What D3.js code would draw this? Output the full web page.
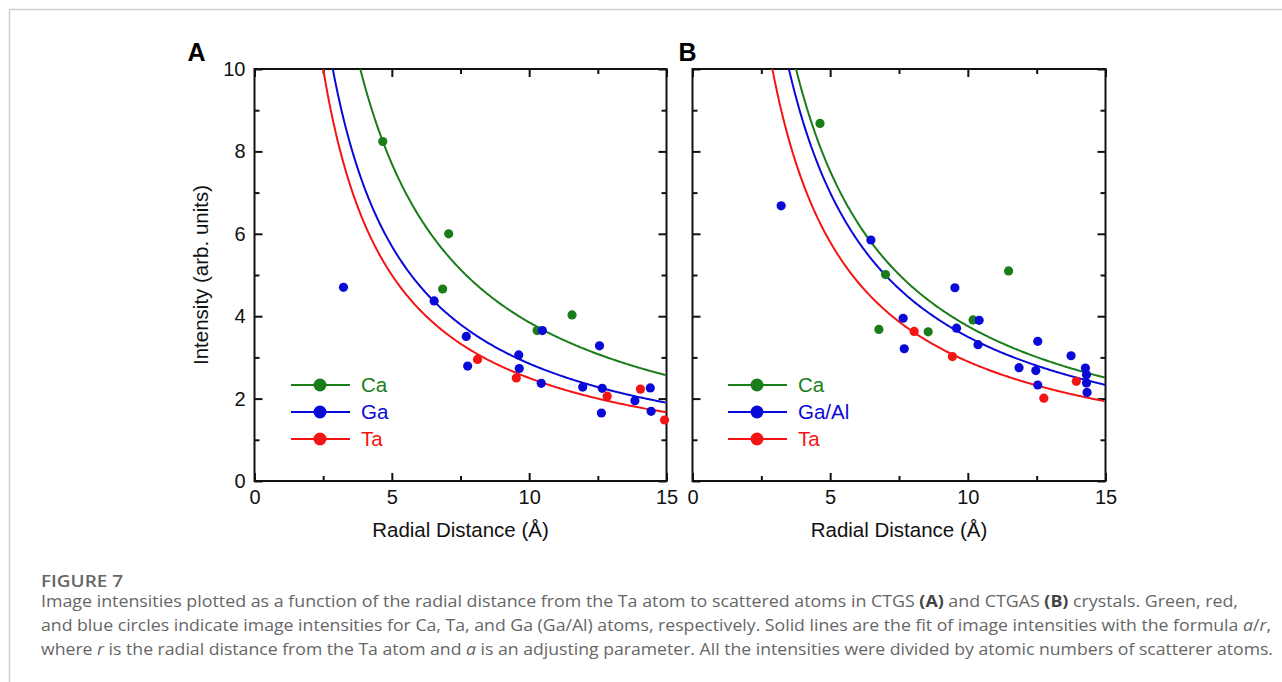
<!DOCTYPE html>
<html lang="en">
<head>
<meta charset="UTF-8">
<title>Figure 7</title>
<script src="https://d3js.org/d3.v7.min.js"></script>
<style>
  body { margin: 0; background: #fff; }
  svg { display: block; font-family: "Liberation Sans", Arial, sans-serif; }
  .axis path, .axis line { stroke: #111; stroke-width: 2; }
  .axis text { font-size: 20px; fill: #111; font-family: "Liberation Sans", Arial, sans-serif; }
  .caption { font-family: "Open Sans", "Noto Sans", sans-serif; fill: #666; }
</style>
</head>
<body>
<svg id="fig" width="1282" height="682"></svg>
<script>
// fit parameter a for I = a / r
var fitA = { Ca: 38.5, Ga: 28.5, Ta: 25.0 };
var fitB = { Ca: 37.6, Ga: 35.0, Ta: 29.0 };

// panel A points [r, I]
var caA = [[4.67, 8.24], [7.07, 6.0], [6.85, 4.66], [10.29, 3.65], [11.56, 4.03]];
var gaA = [[3.24, 4.70], [6.54, 4.37], [7.71, 3.51], [7.76, 2.79], [9.62, 3.06], [9.64, 2.73],
           [10.48, 3.65], [10.44, 2.37], [11.95, 2.28], [12.56, 3.28], [12.66, 2.25], [12.63, 1.65],
           [13.85, 1.95], [14.41, 2.26], [14.44, 1.69]];
var taA = [[8.12, 2.95], [9.53, 2.50], [12.84, 2.06], [14.05, 2.23], [14.93, 1.48]];

// panel B points
var caB = [[4.63, 8.68], [7.01, 5.01], [6.77, 3.68], [8.56, 3.62], [10.19, 3.91], [11.48, 5.10]];
var gaB = [[3.22, 6.68], [6.48, 5.85], [9.53, 4.69], [7.65, 3.95], [7.69, 3.21], [9.59, 3.71],
           [10.41, 3.90], [10.37, 3.31], [11.86, 2.75], [12.47, 2.68], [12.54, 3.39], [12.54, 2.33],
           [13.75, 3.04], [14.27, 2.74], [14.31, 2.58], [14.31, 2.38], [14.33, 2.15]];
var taB = [[8.05, 3.63], [9.44, 3.02], [12.76, 2.01], [13.94, 2.42]];

var xMajor = [0, 5, 10, 15], xMinor = [2.5, 7.5, 12.5];
var yMajor = [0, 2, 4, 6, 8, 10], yMinor = [1, 3, 5, 7, 9];

var colors = { Ca: "#1a7d1a", Ga: "#0a0ad8", Ta: "#f41414" };

var svg = d3.select("#fig");

// page frame
svg.append("line").attr("x1", 9.5).attr("x2", 1282).attr("y1", 9.5).attr("y2", 9.5)
  .attr("stroke", "#cfcfcf").attr("stroke-width", 1.5);
svg.append("line").attr("x1", 9.5).attr("x2", 9.5).attr("y1", 9.5).attr("y2", 682)
  .attr("stroke", "#cfcfcf").attr("stroke-width", 1.5);

function panel(opts) {
  var x = d3.scaleLinear().domain([0, 15]).range([opts.left, opts.right]);
  var y = d3.scaleLinear().domain([0, 10]).range([481, 69]);
  var g = svg.append("g");

  var clipId = "clip" + opts.label;
  svg.append("clipPath").attr("id", clipId).append("rect")
    .attr("x", opts.left).attr("y", 69).attr("width", opts.right - opts.left).attr("height", 412);

  // inward ticks on all four sides
  function tickAxis(axisFn, scale, vals, size, tx, ty, labels, pad) {
    var ax = axisFn(scale).tickValues(vals).tickSize(-size).tickPadding(pad || 6)
      .tickFormat(labels ? d3.format("d") : "");
    var a = g.append("g").attr("class", "axis")
      .attr("transform", "translate(" + tx + "," + ty + ")").call(ax);
    a.select(".domain").remove();
    return a;
  }
  tickAxis(d3.axisBottom, x, xMinor, 5, 0, 481, false);
  tickAxis(d3.axisTop, x, xMinor, 5, 0, 69, false);
  tickAxis(d3.axisLeft, y, yMinor, 5, opts.left, 0, false);
  tickAxis(d3.axisRight, y, yMinor, 5, opts.right, 0, false);
  var bx = tickAxis(d3.axisBottom, x, xMajor, 8, 0, 481, true, 5);
  bx.selectAll("text").attr("dy", "0.9em");
  tickAxis(d3.axisTop, x, xMajor, 8, 0, 69, false);
  tickAxis(d3.axisLeft, y, yMajor, 8, opts.left, 0, opts.yLabels, 9);
  tickAxis(d3.axisRight, y, yMajor, 8, opts.right, 0, false);

  // frame
  g.append("rect").attr("x", opts.left).attr("y", 69)
    .attr("width", opts.right - opts.left).attr("height", 412)
    .attr("fill", "none").attr("stroke", "#111").attr("stroke-width", 2);

  // fit curves a/r
  ["Ca", "Ga", "Ta"].forEach(function(k) {
    var a = opts.fit[k];
    var rs = d3.range(a / 10.5, 15.001, 0.05);
    g.append("path").attr("clip-path", "url(#" + clipId + ")")
      .attr("d", d3.line().x(function(r) { return x(r); }).y(function(r) { return y(a / r); })(rs))
      .attr("fill", "none").attr("stroke", colors[k]).attr("stroke-width", 2);
  });

  // points
  [["Ca", opts.ca], ["Ga", opts.ga], ["Ta", opts.ta]].forEach(function(s) {
    g.append("g").selectAll("circle").data(s[1]).enter().append("circle")
      .attr("cx", function(d) { return x(d[0]); })
      .attr("cy", function(d) { return y(d[1]); })
      .attr("r", 4.6).attr("fill", colors[s[0]]);
  });

  // legend
  var names = opts.names;
  ["Ca", "Ga", "Ta"].forEach(function(k, i) {
    var ly0 = 385 + i * 27;
    var lg = g.append("g");
    lg.append("line").attr("x1", opts.legX).attr("x2", opts.legX + 59)
      .attr("y1", ly0).attr("y2", ly0).attr("stroke", colors[k]).attr("stroke-width", 2);
    lg.append("circle").attr("cx", opts.legX + 29).attr("cy", ly0).attr("r", 6.5).attr("fill", colors[k]);
    lg.append("text").attr("x", opts.legX + 70).attr("y", ly0 + 7)
      .attr("font-size", "20.5px").attr("fill", colors[k]).text(names[i]);
  });

  // x label
  g.append("text").attr("x", (opts.left + opts.right) / 2).attr("y", 537)
    .attr("text-anchor", "middle").attr("font-size", "20.5px").attr("fill", "#111")
    .text("Radial Distance (Å)");

  // panel label
  g.append("text").attr("x", opts.left - 67 + opts.labDx).attr("y", 61)
    .attr("font-size", "25px").attr("font-weight", "bold").attr("fill", "#000")
    .text(opts.label);
}

panel({ label: "A", left: 254.5, right: 666.5, fit: fitA, ca: caA, ga: gaA, ta: taA,
        yLabels: true, legX: 291, names: ["Ca", "Ga", "Ta"], labDx: 0 });
panel({ label: "B", left: 692.5, right: 1105.5, fit: fitB, ca: caB, ga: gaB, ta: taB,
        yLabels: false, legX: 728, names: ["Ca", "Ga/Al", "Ta"], labDx: 53 });

// y label
svg.append("text").attr("transform", "translate(208,275) rotate(-90)")
  .attr("text-anchor", "middle").attr("font-size", "20.5px").attr("fill", "#111")
  .text("Intensity (arb. units)");

// caption
var cap = svg.append("g").attr("class", "caption");
cap.append("text").attr("x", 41).attr("y", 587).attr("font-size", "17px").attr("font-weight", 600)
  .attr("textLength", 82).attr("lengthAdjust", "spacingAndGlyphs").text("FIGURE 7");

var l1 = cap.append("text").attr("x", 41).attr("y", 607).attr("font-size", "16px")
  .attr("textLength", 1197).attr("lengthAdjust", "spacingAndGlyphs");
l1.append("tspan").text("Image intensities plotted as a function of the radial distance from the Ta atom to scattered atoms in CTGS ");
l1.append("tspan").attr("font-weight", "bold").attr("fill", "#444").text("(A)");
l1.append("tspan").text(" and CTGAS ");
l1.append("tspan").attr("font-weight", "bold").attr("fill", "#444").text("(B)");
l1.append("tspan").text(" crystals. Green, red,");

var l2 = cap.append("text").attr("x", 41).attr("y", 631).attr("font-size", "16px")
  .attr("textLength", 1230).attr("lengthAdjust", "spacingAndGlyphs");
l2.append("tspan").text("and blue circles indicate image intensities for Ca, Ta, and Ga (Ga/Al) atoms, respectively. Solid lines are the fit of image intensities with the formula ");
l2.append("tspan").attr("font-style", "italic").text("a");
l2.append("tspan").text("/");
l2.append("tspan").attr("font-style", "italic").text("r");
l2.append("tspan").text(",");

var l3 = cap.append("text").attr("x", 41).attr("y", 655).attr("font-size", "16px")
  .attr("textLength", 1232).attr("lengthAdjust", "spacingAndGlyphs");
l3.append("tspan").text("where ");
l3.append("tspan").attr("font-style", "italic").text("r");
l3.append("tspan").text(" is the radial distance from the Ta atom and ");
l3.append("tspan").attr("font-style", "italic").text("a");
l3.append("tspan").text(" is an adjusting parameter. All the intensities were divided by atomic numbers of scatterer atoms.");
</script>
</body>
</html>
